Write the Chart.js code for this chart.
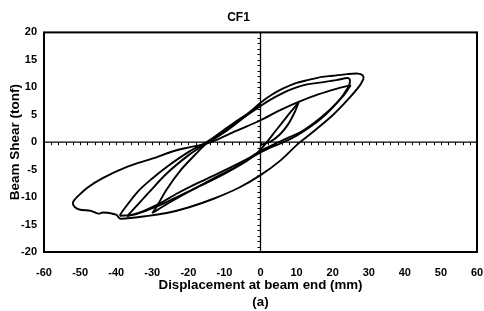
<!DOCTYPE html>
<html>
<head>
<meta charset="utf-8">
<script src="https://cdn.jsdelivr.net/npm/chart.js@4.4.1/dist/chart.umd.min.js"></script>
<style>
  html, body { margin: 0; padding: 0; background: #fff; }
  #wrap { width: 484px; height: 311px; }
</style>
</head>
<body>
<div id="wrap"><canvas id="c" width="484" height="311"></canvas></div>
<script>
// ---- Data (displacement mm, beam shear tonf), branch by branch ----
const xTicks = [-60, -50, -40, -30, -20, -10, 0, 10, 20, 30, 40, 50, 60];
const yTicks = [-20, -15, -10, -5, 0, 5, 10, 15, 20];

const branchA = [[0,-0.5],[3,0.2],[5.5,1.5],[7.6,3.2],[9.5,5.5],[10.6,7.3]];
const branchB = [[10.6,7.3],[9.5,6.4],[7,4.4],[4,1.9],[1.5,-0.2],[-1,-2],[-3,-3]];
const branchC = [[-3,-3],[-8,-4.9],[-13,-6.6],[-17.6,-8.2],[-22,-9.8],[-26,-11.3],[-29,-12.5],[-30,-12.9]];
const branchD = [[-30,-12.9],[-29,-12],[-26,-8.6],[-22,-5],[-18,-2.2],[-15,-0.3],[-13,0.2],[-6.6,2.1],[0,4.0],[5,5.7],[10.4,7.3],[16,8.7],[21.5,9.8],[25,10.4]];
const branchE = [[25,10.4],[23,8.5],[19,5.8],[15,3.6],[11,1.8],[7.6,0.8],[4,-0.3],[0,-1.6],[-3,-2.8],[-8,-4.5],[-13,-6.1],[-17.6,-7.5],[-23,-9.3],[-28,-11.2],[-32,-12.4],[-35,-13.1],[-37,-13.5]];
const branchF = [[-37,-13.5],[-36,-12.8],[-31,-9.2],[-26,-5.7],[-20,-2.4],[-15,-0.2],[-10,2.0],[-5,4.3],[0,6.6],[4,8.2],[7.6,9.4],[12,10.4],[17,10.9],[21,11.3],[24.3,11.7],[24.8,11.2],[24.5,10.2]];
const branchG = [[24.5,10.2],[22,7.8],[18,5],[14,2.9],[10,1.2],[6,-0.1],[2,-1.2],[-1.5,-2.4],[-4,-3.5],[-9,-5.4],[-14,-7.1],[-20,-9],[-26,-10.9],[-31,-12.3],[-35,-13.2],[-39,-13.4]];
const branchH = [[-39,-13.4],[-38.5,-12.8],[-34,-9],[-30,-6.6],[-26,-4.5],[-20,-1.8],[-15,0],[-10,2.3],[-7.6,3.4],[-3,5.5],[0,7.2],[3,8.6],[6.3,9.8],[10,10.8],[13,11.3],[17,11.9],[20,12.1],[24,12.4],[27,12.5],[28.3,12.2],[28.6,11.6]];
const branchI = [[28.6,11.6],[27.5,10.3],[24,7.6],[20,4.9],[14.6,1.9],[10.4,-0.3],[5.4,-3.4],[0,-6],[-6,-8.3],[-13,-10.3],[-20,-11.9],[-26,-12.9],[-32,-13.5],[-36,-13.8],[-39,-13.9],[-40,-13.2],[-43.6,-12.8],[-45,-13],[-47,-12.5],[-50,-12.3],[-51.5,-11.8],[-52,-11],[-51.2,-10.2]];
const branchJ = [[-51.2,-10.2],[-48,-8.3],[-43.6,-6.5],[-37,-4.5],[-30,-3.0],[-24,-1.6],[-19.5,-0.9],[-15,-0.2],[-10,1.8],[-5,4.3],[0,7]];

const branches = [branchA, branchB, branchC, branchD, branchE, branchF, branchG, branchH, branchI, branchJ];

const FONT = '"Liberation Sans", Arial, Helvetica, sans-serif';

const frameZero = {
  id: 'frameZero',
  beforeDatasetsDraw(chart) {
    const { ctx, chartArea: { left, right, top, bottom }, scales: { x, y } } = chart;
    const x0 = x.getPixelForValue(0), y0 = y.getPixelForValue(0);
    ctx.save();
    ctx.strokeStyle = '#000';
    ctx.lineWidth = 1.3;
    ctx.beginPath();
    ctx.moveTo(left, y0); ctx.lineTo(right, y0);
    ctx.moveTo(x0, top); ctx.lineTo(x0, bottom);
    ctx.stroke();
    ctx.lineWidth = 1;
    ctx.beginPath();
    for (let v = x.min; v <= x.max; v += 2) {
      const px = Math.round(x.getPixelForValue(v)) + 0.5;
      ctx.moveTo(px, y0); ctx.lineTo(px, y0 + 3);
    }
    for (let v = y.min; v <= y.max; v += 1) {
      const py = Math.round(y.getPixelForValue(v)) + 0.5;
      ctx.moveTo(x0, py); ctx.lineTo(x0 - 3, py);
    }
    ctx.stroke();
    ctx.restore();
  },
  afterDraw(chart) {
    const { ctx, chartArea: { left, right, top, bottom } } = chart;
    ctx.save();
    ctx.strokeStyle = '#000';
    ctx.lineWidth = 2;
    ctx.strokeRect(left, top, right - left, bottom - top);
    ctx.restore();
  }
};

new Chart(document.getElementById('c'), {
  type: 'scatter',
  data: {
    datasets: branches.map(b => ({
      data: b.map(p => ({ x: p[0], y: p[1] })),
      showLine: true,
      borderColor: '#000',
      borderWidth: 1.9,
      pointRadius: 0,
      tension: 0.3,
      fill: false
    }))
  },
  options: {
    responsive: false,
    animation: false,
    events: [],
    layout: { padding: { left: 0, right: 7, top: 0, bottom: 0 } },
    plugins: {
      legend: { display: false },
      tooltip: { enabled: false },
      title: {
        display: true,
        text: 'CF1',
        color: '#000',
        font: { family: FONT, size: 12, weight: 'bold', lineHeight: 1.2 },
        padding: { top: 10, bottom: 8 }
      }
    },
    scales: {
      x: {
        type: 'linear',
        min: -60, max: 60,
        afterBuildTicks: s => { s.ticks = xTicks.map(v => ({ value: v })); },
        afterFit: s => { s.height = 59; },
        grid: { display: false, drawTicks: true, tickLength: 14 },
        border: { display: false },
        ticks: {
          autoSkip: false, maxRotation: 0, padding: 0, color: '#000',
          font: { family: FONT, size: 11, weight: 'bold' }
        },
        title: {
          display: true,
          text: ['Displacement at beam end (mm)', '(a)'],
          color: '#000',
          font: { family: FONT, size: 13.3, weight: 'bold', lineHeight: 1.28 },
          padding: { top: 0, bottom: 0 }
        }
      },
      y: {
        type: 'linear',
        min: -20, max: 20,
        afterBuildTicks: s => { s.ticks = yTicks.map(v => ({ value: v })); },
        afterFit: s => { s.width = 44; },
        grid: { display: false, drawTicks: false },
        border: { display: false },
        ticks: {
          autoSkip: false, padding: 7, color: '#000',
          font: { family: FONT, size: 11, weight: 'bold' }
        },
        title: {
          display: true,
          text: 'Beam Shear (tonf)',
          color: '#000',
          font: { family: FONT, size: 13.5, weight: 'bold', lineHeight: 1.2 },
          padding: { top: 7, bottom: 0 }
        }
      }
    }
  },
  plugins: [frameZero]
});
</script>
</body>
</html>
